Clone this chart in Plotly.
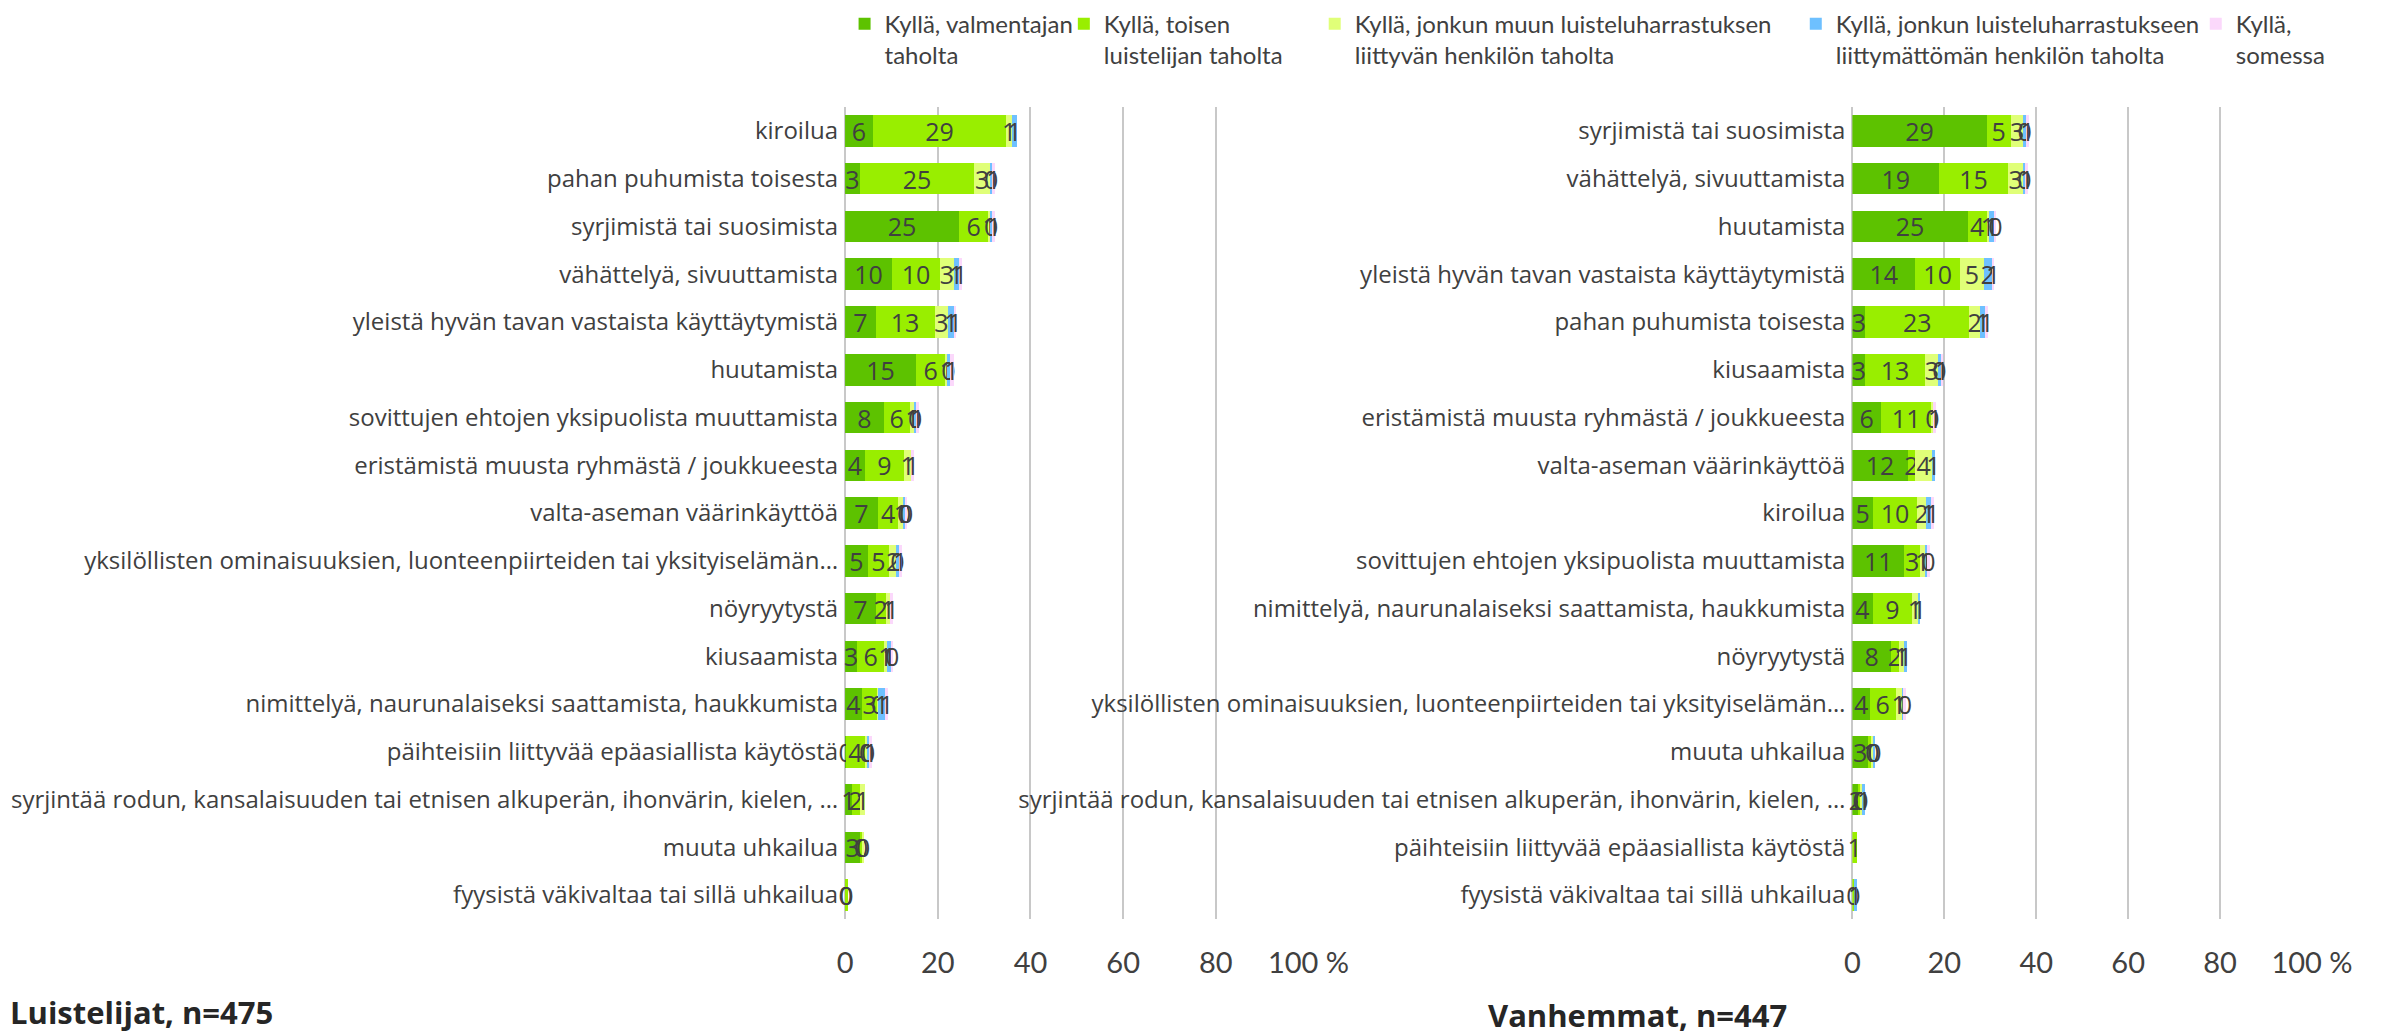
import plotly.graph_objects as go
from plotly.subplots import make_subplots

# ----------------------------------------------------------
# Data (percent), categories listed top to bottom
# ----------------------------------------------------------

series_names = [
    "Kyllä, valmentajan<br>taholta",
    "Kyllä, toisen<br>luistelijan taholta",
    "Kyllä, jonkun muun luisteluharrastuksen<br>liittyvän henkilön taholta",
    "Kyllä, jonkun luisteluharrastukseen<br>liittymättömän henkilön taholta",
    "Kyllä,<br>somessa",
]
series_colors = ["#5DC200", "#99EE00", "#E0FF78", "#6EC0FF", "#FBD8FB"]

skaters_categories = [
    "kiroilua",
    "pahan puhumista toisesta",
    "syrjimistä tai suosimista",
    "vähättelyä, sivuuttamista",
    "yleistä hyvän tavan vastaista käyttäytymistä",
    "huutamista",
    "sovittujen ehtojen yksipuolista muuttamista",
    "eristämistä muusta ryhmästä / joukkueesta",
    "valta-aseman väärinkäyttöä",
    "yksilöllisten ominaisuuksien, luonteenpiirteiden tai yksityiselämän…",
    "nöyryytystä",
    "kiusaamista",
    "nimittelyä, naurunalaiseksi saattamista, haukkumista",
    "päihteisiin liittyvää epäasiallista käytöstä",
    "syrjintää rodun, kansalaisuuden tai etnisen alkuperän, ihonvärin, kielen, …",
    "muuta uhkailua",
    "fyysistä väkivaltaa tai sillä uhkailua",
]
skaters_coach = [6.0, 3.2, 24.6, 10.1, 6.6, 15.3, 8.3, 4.2, 7.1, 4.9, 6.6, 2.6, 3.6, 0.1, 1.4, 3.3, 0.2]
skaters_other_skater = [28.8, 24.7, 6.3, 10.4, 12.7, 6.3, 5.7, 8.6, 4.4, 4.6, 2.2, 5.8, 3.4, 4.3, 1.8, 0.4, 0.4]
skaters_hobby_person = [1.2, 3.4, 0.6, 2.9, 3.0, 0.6, 1.1, 1.4, 1.1, 1.7, 0.9, 0.6, 0.2, 0.4, 1.1, 0.4, 0.0]
skaters_outsider = [1.1, 0.4, 0.3, 1.1, 1.1, 0.4, 0.2, 0.0, 0.4, 0.4, 0.0, 1.0, 1.4, 0.4, 0.0, 0.0, 0.0]
skaters_some = [0.0, 0.6, 0.6, 0.7, 0.6, 0.8, 0.6, 0.6, 0.2, 0.6, 0.7, 0.4, 0.6, 0.6, 0.0, 0.0, 0.0]

parents_categories = [
    "syrjimistä tai suosimista",
    "vähättelyä, sivuuttamista",
    "huutamista",
    "yleistä hyvän tavan vastaista käyttäytymistä",
    "pahan puhumista toisesta",
    "kiusaamista",
    "eristämistä muusta ryhmästä / joukkueesta",
    "valta-aseman väärinkäyttöä",
    "kiroilua",
    "sovittujen ehtojen yksipuolista muuttamista",
    "nimittelyä, naurunalaiseksi saattamista, haukkumista",
    "nöyryytystä",
    "yksilöllisten ominaisuuksien, luonteenpiirteiden tai yksityiselämän…",
    "muuta uhkailua",
    "syrjintää rodun, kansalaisuuden tai etnisen alkuperän, ihonvärin, kielen, …",
    "päihteisiin liittyvää epäasiallista käytöstä",
    "fyysistä väkivaltaa tai sillä uhkailua",
]
parents_coach = [29.2, 18.9, 25.1, 13.7, 2.8, 2.8, 6.2, 12.0, 4.5, 11.3, 4.4, 8.4, 3.8, 3.4, 1.5, 0.0, 0.0]
parents_other_skater = [5.2, 14.9, 4.1, 9.7, 22.6, 13.0, 11.0, 1.7, 9.6, 3.4, 8.6, 1.7, 5.6, 0.9, 0.4, 1.0, 0.3]
parents_hobby_person = [2.9, 3.4, 0.6, 5.2, 2.4, 3.0, 0.4, 3.6, 1.9, 1.1, 1.2, 1.1, 1.3, 0.3, 0.3, 0.0, 0.0]
parents_outsider = [0.4, 0.4, 1.1, 1.7, 1.1, 0.4, 0.0, 0.6, 1.1, 0.6, 0.6, 0.6, 0.6, 0.4, 0.6, 0.0, 0.6]
parents_some = [0.7, 0.6, 0.4, 0.6, 0.6, 0.6, 0.7, 0.0, 0.6, 0.4, 0.0, 0.0, 0.4, 0.0, 0.0, 0.0, 0.0]

x_ticks = [0, 20, 40, 60, 80, 100]
x_tick_labels = ["0", "20", "40", "60", "80", "100 %"]

skaters_series = [skaters_coach, skaters_other_skater, skaters_hobby_person, skaters_outsider, skaters_some]
parents_series = [parents_coach, parents_other_skater, parents_hobby_person, parents_outsider, parents_some]

TEXT = "#404040"
FONT = "Lato"
LABEL_FONT = "Open Sans"

# ----------------------------------------------------------
# Figure (page body has an 8px margin, so the figure is 2378x1027)
# ----------------------------------------------------------

fig = make_subplots(rows=1, cols=2)

legend_ids = ["legend", "legend2", "legend3", "legend4", "legend5"]

for i, name in enumerate(series_names):
    for col, cats, vals in [(1, skaters_categories, skaters_series[i]),
                            (2, parents_categories, parents_series[i])]:
        fig.add_trace(
            go.Bar(
                y=cats,
                x=vals,
                orientation="h",
                name=name,
                marker=dict(color=series_colors[i], line=dict(width=0)),
                text=vals,
                texttemplate="%{x:.0f}",
                textposition="inside",
                insidetextanchor="middle",
                textangle=0,
                textfont=dict(family=LABEL_FONT, size=25, color=TEXT),
                cliponaxis=False,
                showlegend=(col == 1),
                legend=legend_ids[i],
                hoverinfo="skip",
            ),
            row=1, col=col,
        )

legend_x = [0.3518, 0.4440, 0.5495, 0.7518, 0.9200]
legend_layout = {}
for lid, lx in zip(legend_ids, legend_x):
    legend_layout[lid] = dict(
        x=lx, y=1.0062, xanchor="left", yanchor="top",
        orientation="h",
        valign="top",
        font=dict(family=FONT, size=24, color=TEXT),
        bgcolor="rgba(0,0,0,0)",
    )

axis_common = dict(
    range=[0, 100],
    tickvals=x_ticks,
    ticktext=x_tick_labels,
    showgrid=True,
    gridcolor="#C8C8C8",
    gridwidth=1.5,
    zeroline=True,
    zerolinecolor="#C8C8C8",
    zerolinewidth=1.5,
    showline=False,
    ticks="",
    ticklabelstandoff=24,
    tickfont=dict(family=FONT, size=29, color=TEXT),
    fixedrange=True,
)
yaxis_common = dict(
    autorange="reversed",
    showgrid=False,
    ticks="",
    ticklabelstandoff=6,
    tickfont=dict(family=LABEL_FONT, size=24, color=TEXT),
    domain=[0.1130, 0.9035],
)

fig.update_layout(
    width=2378,
    height=1027,
    barmode="stack",
    bargap=0.34,
    plot_bgcolor="white",
    paper_bgcolor="white",
    margin=dict(l=0, r=0, t=0, b=0, autoexpand=False),
    font=dict(family=FONT, color=TEXT),
    uniformtext=dict(minsize=25, mode="show"),
    xaxis=dict(axis_common, domain=[0.3520, 0.5469]),
    xaxis2=dict(axis_common, domain=[0.7756, 0.9689]),
    yaxis=yaxis_common,
    yaxis2=yaxis_common,
    **legend_layout,
)

fig.add_annotation(
    text="<b>Luistelijat, n=475</b>", xref="paper", yref="paper",
    x=0.0, y=0.0224, xanchor="left", yanchor="middle", showarrow=False,
    font=dict(family=LABEL_FONT, size=31, color="#262626"),
)
fig.add_annotation(
    text="<b>Vanhemmat, n=447</b>", xref="paper", yref="paper",
    x=0.6215, y=0.019, xanchor="left", yanchor="middle", showarrow=False,
    font=dict(family=LABEL_FONT, size=31, color="#262626"),
)

fig.write_html("out.html")
